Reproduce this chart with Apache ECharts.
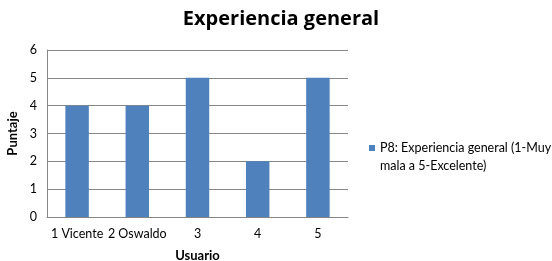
<html>
<head>
    <meta charset="utf-8">
</head>
<body style="margin:0">
    <script src="https://cdn.jsdelivr.net/npm/echarts@6/dist/echarts.min.js"></script>
    <div id="main" style="width: 552px;height: 261px"></div>
    <script>
var usuarios = ['1 Vicente', '2 Oswaldo', '3', '4', '5'];
var puntajes = [4, 4, 5, 2, 5];
var serieNombre = 'P8: Experiencia general (1-Muy mala a 5-Excelente)';

var myChart = echarts.init(document.getElementById('main'));

var fuente = 'Lato, "Open Sans", sans-serif';

option = {
    animation: false,
    title: {
        text: 'Experiencia general',
        left: 276,
        textAlign: 'center',
        top: 4,
        textStyle: { fontFamily: '"Open Sans", sans-serif', fontSize: 20, fontWeight: 'bold', color: '#000' }
    },
    legend: {
        orient: 'vertical',
        left: 364,
        top: 134,
        itemWidth: 6,
        itemHeight: 24,
        itemGap: 4,
        // square sits next to the first text line, like the original
        icon: 'path://M0,0H10V10H0Z M0,39.9H0.1V40H0Z',
        data: [serieNombre],
        formatter: function (n) {
            return n.replace(' (1-Muy mala', ' (1-Muy\nmala');
        },
        textStyle: { fontFamily: fuente, fontSize: 12.5, color: '#000', lineHeight: 18 }
    },
    grid: { left: 47, right: 204, top: 50, bottom: 44, outerBoundsMode: 'none', containLabel: false },
    xAxis: {
        type: 'category',
        data: usuarios,
        name: 'Usuario',
        nameLocation: 'middle',
        nameGap: 32,
        nameTextStyle: { fontFamily: fuente, fontSize: 13, fontWeight: 'bold', color: '#000' },
        axisLine: { lineStyle: { color: '#868686' } },
        axisTick: { show: false },
        axisLabel: { fontFamily: fuente, fontSize: 12.5, color: '#000', margin: 10, interval: 0 }
    },
    yAxis: {
        type: 'value',
        min: 0,
        max: 6,
        interval: 1,
        name: 'Puntaje',
        nameLocation: 'middle',
        nameGap: 25,
        nameTextStyle: { fontFamily: fuente, fontSize: 13, fontWeight: 'bold', color: '#000' },
        axisLine: { show: true, lineStyle: { color: '#868686' } },
        axisTick: { show: false },
        axisLabel: { fontFamily: fuente, fontSize: 12.5, color: '#000', margin: 10 },
        splitLine: { lineStyle: { color: '#868686' } }
    },
    series: [
        {
            name: serieNombre,
            type: 'bar',
            data: puntajes,
            barWidth: '39%',
            itemStyle: { color: '#4F81BD' }
        }
    ]
};

myChart.setOption(option);
    </script>
</body>
</html>
